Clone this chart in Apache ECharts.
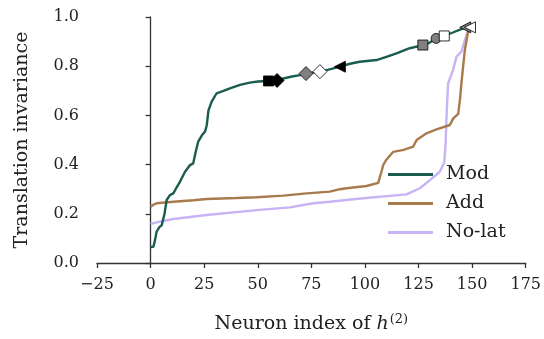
<!DOCTYPE html>
<html>
<head>
<meta charset="utf-8">
<script src="https://cdn.jsdelivr.net/npm/echarts@6/dist/echarts.min.js"></script>
<style>
  html, body { margin: 0; padding: 0; background: #fff; }
  #chart { width: 544px; height: 339px; }
</style>
</head>
<body>
<div id="chart"></div>
<script>
// neuron index / invariance pairs
const modX = [0, 1.3, 2, 2.8, 4, 5.2, 6.5, 7.5, 9, 10.6, 12, 13.7, 16, 18.4, 19.9, 21, 22.2, 24, 25.4, 26.2, 27, 28.5, 30.8, 34, 37, 41.7, 46.3, 50, 55, 59, 61.9, 66, 69.7, 72.8, 79, 84, 88.3, 93, 97.6, 105.4, 110, 114.7, 120.9, 127.1, 130, 133.4, 136.9, 141, 145.8, 147.4, 149]
const modY = [0.065, 0.066, 0.09, 0.127, 0.145, 0.154, 0.2, 0.256, 0.276, 0.283, 0.305, 0.33, 0.37, 0.398, 0.405, 0.45, 0.493, 0.52, 0.534, 0.56, 0.62, 0.656, 0.69, 0.7, 0.71, 0.724, 0.733, 0.738, 0.74, 0.742, 0.75, 0.758, 0.764, 0.771, 0.778, 0.788, 0.798, 0.81, 0.818, 0.825, 0.838, 0.852, 0.873, 0.886, 0.895, 0.913, 0.923, 0.937, 0.954, 0.96, 0.962]

const addX = [0, 1, 2.8, 10.6, 20, 26.2, 40, 49.5, 61.9, 72.8, 83.6, 88.3, 91.4, 100.7, 106.2, 107, 108, 108.5, 110, 113.2, 118, 122.5, 124.1, 128.7, 133.4, 139.6, 141.2, 143.5, 144.3, 145, 146.6, 148.1, 149]
const addY = [0.229, 0.235, 0.243, 0.249, 0.255, 0.26, 0.264, 0.267, 0.274, 0.283, 0.29, 0.3, 0.304, 0.313, 0.326, 0.351, 0.38, 0.398, 0.42, 0.452, 0.46, 0.473, 0.5, 0.527, 0.543, 0.561, 0.588, 0.606, 0.663, 0.73, 0.866, 0.94, 0.96]

const nolatX = [0, 4.4, 10.6, 26.2, 49.5, 65, 75.9, 83.6, 99.2, 119.4, 125.6, 130.3, 134.9, 137, 137.6, 138, 138.4, 138.8, 141.1, 142.7, 145, 146.6, 147.7, 148.5]
const nolatY = [0.159, 0.168, 0.179, 0.195, 0.215, 0.226, 0.243, 0.249, 0.263, 0.279, 0.304, 0.337, 0.371, 0.41, 0.48, 0.58, 0.663, 0.73, 0.785, 0.839, 0.859, 0.906, 0.934, 0.955]

// highlighted neurons on the Mod curve
const markX = [55, 59, 72.5, 79, 88.3, 127, 133.2, 137, 146.8, 149]
const markY = [0.74, 0.742, 0.77, 0.778, 0.798, 0.886, 0.913, 0.923, 0.958, 0.958]
const markShape = ['rect', 'diamond', 'diamond', 'diamond', 'triangle', 'rect', 'circle', 'rect', 'triangle', 'triangle']
const markFill = ['#000', '#000', '#808080', '#fff', '#000', '#808080', '#808080', '#fff', '#808080', '#fff']

const xTicks = [-25, 0, 25, 50, 75, 100, 125, 150, 175]

const FONT = 'DejaVu Serif'
const AXIS_COLOR = '#333'
const LEGEND_ICON = 'path://M0,0 L45,0 L45,3 L0,3 Z'

const pairs = (xs, ys) => xs.map((x, i) => [x, ys[i]])

const chart = echarts.init(document.getElementById('chart'))

const lineSeries = (name, xs, ys, color) => ({
  name,
  type: 'line',
  data: pairs(xs, ys),
  symbol: 'none',
  smooth: false,
  lineStyle: { color, width: 2.4 },
  itemStyle: { color },
  z: 2,
})

chart.setOption({
  animation: false,
  grid: { left: 97, right: 18, top: 17, bottom: 76 },
  legend: {
    data: [
      { name: 'Mod', icon: LEGEND_ICON },
      { name: 'Add', icon: LEGEND_ICON },
      { name: 'No-lat', icon: LEGEND_ICON },
    ],
    orient: 'vertical',
    left: 383,
    top: 159,
    itemWidth: 45,
    itemHeight: 3,
    itemGap: 8,
    textStyle: { fontFamily: FONT, fontSize: 19, color: '#222', padding: [0, 0, 0, 8], lineHeight: 21 },
  },
  xAxis: {
    type: 'value',
    min: xTicks[0],
    max: xTicks[xTicks.length - 1],
    interval: 25,
    name: '{t|Neuron index of }{i|h}{s|(2)}',
    nameLocation: 'middle',
    nameGap: 50,
    nameTextStyle: {
      rich: {
        t: { fontFamily: FONT, fontSize: 19, color: '#222' },
        i: { fontFamily: FONT, fontSize: 19, fontStyle: 'italic', color: '#222' },
        s: { fontFamily: FONT, fontSize: 13, color: '#222', verticalAlign: 'bottom', padding: [0, 0, 10, 1] },
      },
    },
    axisLine: { lineStyle: { color: AXIS_COLOR, width: 1.3 } },
    axisTick: { lineStyle: { color: AXIS_COLOR, width: 1.3 }, length: 5 },
    axisLabel: {
      fontFamily: FONT, fontSize: 16, color: '#222', margin: 14,
      formatter: v => (v < 0 ? '\u2212' + Math.abs(v) : String(v)),
    },
    splitLine: { show: false },
  },
  yAxis: {
    type: 'value',
    min: 0,
    max: 1,
    interval: 0.2,
    name: 'Translation invariance',
    nameLocation: 'middle',
    nameGap: 65,
    nameTextStyle: { fontFamily: FONT, fontSize: 19, color: '#222' },
    axisLine: { show: true, lineStyle: { color: AXIS_COLOR, width: 1.3 } },
    axisTick: { show: true, lineStyle: { color: AXIS_COLOR, width: 1.3 }, length: 5 },
    axisLabel: { fontFamily: FONT, fontSize: 16, color: '#222', margin: 18, formatter: v => v.toFixed(1) },
    splitLine: { show: false },
  },
  series: [
    lineSeries('No-lat', nolatX, nolatY, '#c8b3f4'),
    lineSeries('Add', addX, addY, '#a87b4c'),
    lineSeries('Mod', modX, modY, '#1b5c51'),
    {
      name: 'marks',
      type: 'scatter',
      z: 5,
      data: markX.map((x, i) => ({
        value: [x, markY[i]],
        symbol: markShape[i],
        symbolSize: markShape[i] === 'diamond' ? 14 : markShape[i] === 'triangle' ? 11 : 10,
        symbolRotate: markShape[i] === 'triangle' ? 90 : 0,
        itemStyle: { color: markFill[i], borderColor: '#000', borderWidth: 0.8, opacity: 1 },
      })),
    },
  ],
})
</script>
</body>
</html>
